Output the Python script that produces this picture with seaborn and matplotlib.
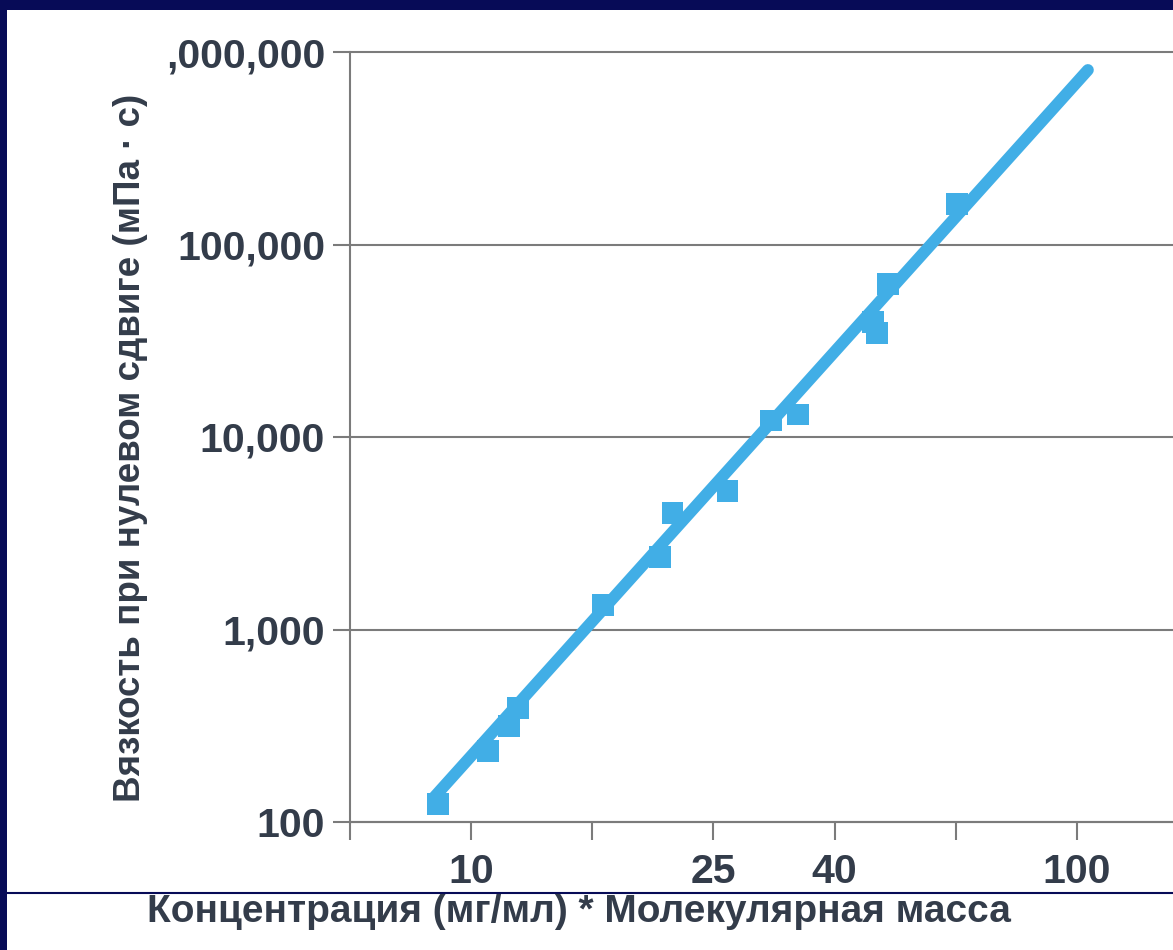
import numpy as np
import matplotlib
matplotlib.use("Agg")
import matplotlib.pyplot as plt
from matplotlib.patches import Rectangle
from matplotlib.lines import Line2D
import seaborn as sns
import pandas as pd

# ---- data ----
conc_mw = [8.82, 10.67, 11.55, 11.95, 16.5, 20.5, 21.5, 26.5, 31.3, 34.7, 46.1, 46.7, 48.8, 63.4]
viscosity = [124, 234, 315, 391, 1341, 2380, 4030, 5243, 12180, 13090, 39570, 34700, 62350, 162300]

fit_x = [8.66, 104.3]
fit_y = [133, 806400]

y_tick_values = [100, 1000, 10000, 100000, 1000000]
y_tick_labels = ["100", "1,000", "10,000", "100,000", ",000,000"]
x_tick_values = [6.31, 10, 15.85, 25.12, 39.81, 63.1, 100, 158.5]
x_tick_labels = ["", "10", "", "25", "40", "", "100", ""]

x_label = "Концентрация (мг/мл) * Молекулярная масса"
y_label = "Вязкость при нулевом сдвиге (мПа · с)"

# ---- style ----
sns.set_theme(style="white")
plt.rcParams["font.family"] = ["Liberation Sans", "DejaVu Sans"]
plt.rcParams["font.weight"] = "bold"

NAVY = "#070b57"
BLUE = "#41aee6"
GRAY = "#7b7b7b"
TEXT = "#333c4a"

W, H = 1173, 950
fig = plt.figure(figsize=(W / 100, H / 100), dpi=100, facecolor=NAVY)
fig.patches.append(Rectangle((7 / W, 0), 1, 1 - 10 / H, transform=fig.transFigure,
                             facecolor="white", edgecolor="none", zorder=-10))
fig.add_artist(Line2D([7 / W, 1], [1 - 893 / H] * 2, color=NAVY, lw=1.5))

left = 350 / W
right = 1198 / W
bottom = 1 - 822 / H
top = 1 - 52 / H
ax = fig.add_axes([left, bottom, right - left, top - bottom])
ax.set_facecolor("none")

df_pts = pd.DataFrame({"x": conc_mw, "y": viscosity})
df_fit = pd.DataFrame({"x": fit_x, "y": fit_y})

sns.scatterplot(data=df_pts, x="x", y="y", marker="s", s=250, color=BLUE,
                edgecolor="none", linewidth=0, ax=ax, zorder=3)
sns.lineplot(data=df_fit, x="x", y="y", color=BLUE, lw=8.5, ax=ax, zorder=4,
             solid_capstyle="round")

ax.set_xscale("log")
ax.set_yscale("log")
ax.set_xlim(x_tick_values[0], x_tick_values[-1])
ax.set_ylim(y_tick_values[0], y_tick_values[-1])

ax.set_yticks(y_tick_values)
ax.set_yticklabels(y_tick_labels)
ax.set_xticks(x_tick_values)
ax.set_xticklabels(x_tick_labels)
ax.minorticks_off()

ax.tick_params(axis="y", which="major", direction="out", length=12, width=1.5,
               color=GRAY, labelsize=29.5, labelcolor=TEXT, pad=6, left=True)
ax.tick_params(axis="x", which="major", direction="out", length=13, width=1.5,
               color=GRAY, labelsize=29.5, labelcolor=TEXT, pad=9, bottom=True)
for lab in ax.get_xticklabels() + ax.get_yticklabels():
    lab.set_fontweight("bold")

ax.yaxis.grid(True, color=GRAY, lw=1.5)
ax.xaxis.grid(False)
for gl in ax.get_ygridlines():
    gl.set_clip_on(False)

for side in ["top", "right"]:
    ax.spines[side].set_visible(False)
for side in ["left", "bottom"]:
    ax.spines[side].set_color(GRAY)
    ax.spines[side].set_linewidth(1.5)

ax.set_xlabel("")
ax.set_ylabel("")

fig.text(131 / W, 1 - 448 / H, y_label, rotation=90, ha="center", va="center",
         fontsize=26.5, fontweight="bold", color=TEXT)
fig.text(579 / W, 1 - 912 / H, x_label, ha="center", va="center",
         fontsize=28, fontweight="bold", color=TEXT)

fig.savefig("out.png", dpi=100, facecolor=NAVY)
